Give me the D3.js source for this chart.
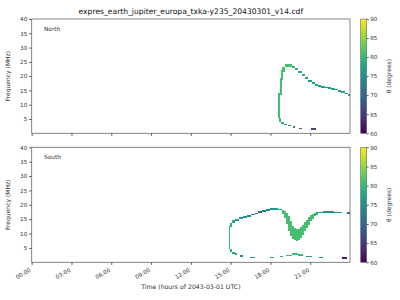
<!DOCTYPE html>
<html>
<head>
<meta charset="utf-8">
<script src="https://cdnjs.cloudflare.com/ajax/libs/d3/7.8.5/d3.min.js"></script>
<style>
  body { margin: 0; background: #fff; }
  text { font-family: "DejaVu Sans", sans-serif; fill: #333; }
</style>
</head>
<body>
<script>
// chart size
var w = 400, h = 300;
var left = 31.7, right = 350;
var panels = [{name: "North", top: 19, bottom: 133.3}, {name: "South", top: 147.3, bottom: 262.3}];

var titleText = "expres_earth_jupiter_europa_txka-y235_20430301_v14.cdf";
var hourTicks = [0, 3, 6, 9, 12, 15, 18, 21];
var hourLabels = ["00:00", "03:00", "06:00", "09:00", "12:00", "15:00", "18:00", "21:00"];
var freqTicks = [5, 10, 15, 20, 25, 30, 35, 40];
var thetaTicks = [60, 65, 70, 75, 80, 85, 90];

// north cells: start hour, end hour, low freq, high freq, theta
var northT0 = [18.60, 18.72, 18.80, 18.90, 19.10,
  19.60, 19.85, 20.10, 20.35, 20.60, 20.85, 21.10, 21.35, 21.60, 21.85, 22.10, 22.35, 22.60, 22.85, 23.10, 23.35, 23.60, 23.85,
  18.62, 18.80, 19.00, 19.35, 19.70, 20.15, 21.05];
var northT1 = [18.75, 18.87, 18.96, 19.10, 19.60,
  19.85, 20.10, 20.35, 20.60, 20.85, 21.10, 21.35, 21.60, 21.85, 22.10, 22.35, 22.60, 22.85, 23.10, 23.35, 23.60, 23.85, 24.00,
  18.80, 19.00, 19.25, 19.55, 19.85, 20.40, 21.40];
var northF0 = [5.2, 13.4, 18.6, 21.5, 23.1,
  23.0, 22.0, 21.0, 19.9, 18.9, 18.0, 17.3, 16.7, 16.3, 16.0, 15.8, 15.6, 15.3, 15.0, 14.5, 14.1, 13.6, 13.1,
  4.0, 3.2, 2.8, 2.4, 2.0, 1.6, 1.3];
var northF1 = [14.0, 19.2, 22.1, 23.3, 24.1,
  23.7, 22.8, 21.8, 20.6, 19.6, 18.7, 18.0, 17.3, 16.9, 16.6, 16.3, 16.1, 15.9, 15.6, 15.1, 14.7, 14.2, 13.7,
  5.3, 4.0, 3.3, 2.8, 2.4, 2.0, 1.7];
var northTheta = [81, 81, 81, 81, 81,
  80, 79, 78, 78, 77, 77, 77, 77, 77, 77, 77, 77, 77, 77, 77, 77, 77, 77,
  80, 79, 78, 77, 74, 70, 66];

// south cells
var southT0 = [14.85, 14.97, 15.10, 15.30, 15.60, 15.90, 16.20, 16.50, 16.80, 17.10, 17.40, 17.70, 18.00, 18.30, 18.60,
  18.90, 19.05, 19.20, 19.35, 19.50, 19.65, 19.80, 19.95, 20.10, 20.25, 20.40, 20.55, 20.70, 20.85, 21.00, 21.15, 21.30, 21.45,
  21.60, 22.00, 22.40, 22.80, 23.80,
  14.97, 15.10, 15.30, 15.70, 16.45, 17.95, 18.70, 19.15, 19.60, 20.10, 20.70, 21.70, 23.36];
var southT1 = [14.97, 15.10, 15.30, 15.60, 15.90, 16.20, 16.50, 16.80, 17.10, 17.40, 17.70, 18.00, 18.30, 18.60, 18.90,
  19.05, 19.20, 19.35, 19.50, 19.65, 19.80, 19.95, 20.10, 20.25, 20.40, 20.55, 20.70, 20.85, 21.00, 21.15, 21.30, 21.45, 21.60,
  22.00, 22.40, 22.80, 23.36, 24.00,
  15.10, 15.30, 15.50, 15.95, 16.80, 18.30, 18.95, 19.60, 20.10, 20.45, 21.10, 22.00, 23.75];
var southF0 = [4.5, 12.2, 13.6, 14.4, 15.0, 15.5, 15.9, 16.3, 16.7, 17.2, 17.6, 18.0, 18.3, 18.3, 18.1,
  16.8, 15.3, 13.2, 11.0, 9.3, 8.2, 7.6, 7.5, 7.8, 8.5, 9.6, 10.8, 12.0, 13.1, 14.2, 15.2, 16.0, 16.6,
  17.0, 17.1, 17.1, 17.0, 16.9,
  3.6, 3.0, 2.5, 2.0, 1.6, 1.6, 1.9, 2.2, 2.6, 2.3, 1.9, 1.6, 1.3];
var southF1 = [12.5, 13.8, 14.6, 15.2, 15.7, 16.1, 16.5, 16.9, 17.3, 17.8, 18.2, 18.6, 18.9, 18.9, 18.7,
  18.3, 17.8, 17.1, 16.0, 14.3, 12.8, 12.0, 11.6, 11.7, 12.2, 13.0, 13.9, 14.8, 15.6, 16.3, 16.9, 17.3, 17.5,
  17.6, 17.7, 17.7, 17.6, 17.5,
  4.8, 3.7, 3.1, 2.5, 2.0, 2.0, 2.3, 2.7, 3.2, 2.8, 2.3, 2.0, 1.7];
var southTheta = [80, 79, 78, 77, 76, 76, 75, 73, 71, 71, 73, 75, 76, 77, 78,
  81, 81, 81, 81, 81, 81, 81, 81, 81, 81, 81, 81, 81, 81, 81, 81, 80, 79,
  77, 76, 76, 76, 71,
  79, 78, 77, 74, 75, 77, 78, 80, 81, 80, 77, 74, 62];

var x = d3.scaleLinear().domain([0, 24]).range([left, right]);
var color = d3.scaleSequential(d3.interpolateViridis).domain([60, 90]);

var svg = d3.select("body").append("svg")
  .attr("width", w).attr("height", h);

svg.append("text")
  .attr("x", (left + right) / 2).attr("y", 14)
  .attr("text-anchor", "middle")
  .attr("font-size", "7.6px")
  .style("fill", "#111")
  .text(titleText);

// colorbar gradient
var grad = svg.append("defs").append("linearGradient")
  .attr("id", "cbar").attr("x1", 0).attr("y1", 1).attr("x2", 0).attr("y2", 0);
d3.range(0, 1.01, 0.1).forEach(function(s) {
  grad.append("stop").attr("offset", s).attr("stop-color", d3.interpolateViridis(s));
});

var cells = [
  {t0: northT0, t1: northT1, f0: northF0, f1: northF1, th: northTheta},
  {t0: southT0, t1: southT1, f0: southF0, f1: southF1, th: southTheta}
];

panels.forEach(function(p, k) {
  var y = d3.scaleLinear().domain([0, 40]).range([p.bottom, p.top]);
  var g = svg.append("g");
  var c = cells[k];

  g.selectAll("rect.cell")
    .data(c.t0)
    .enter()
    .append("rect")
    .attr("class", "cell")
    .attr("x", function(d) { return x(d); })
    .attr("width", function(d, i) { return x(c.t1[i]) - x(d); })
    .attr("y", function(d, i) { return y(c.f1[i]); })
    .attr("height", function(d, i) { return y(c.f0[i]) - y(c.f1[i]); })
    .attr("fill", function(d, i) { return color(c.th[i]); })
    .attr("shape-rendering", "crispEdges");

  // y axis
  var ya = g.append("g").attr("transform", "translate(" + left + ",0)")
    .call(d3.axisLeft(y).tickValues(freqTicks).tickSize(2.5).tickPadding(2));
  ya.select(".domain").remove();
  ya.selectAll("line").attr("stroke", "#555");
  ya.selectAll("text").attr("font-size", "5.6px").attr("font-family", "DejaVu Sans").style("fill", "#333");

  // x axis
  var xa = g.append("g").attr("transform", "translate(0," + p.bottom + ")")
    .call(d3.axisBottom(x).tickValues(hourTicks).tickSize(2.5)
      .tickFormat(function(d, i) { return k == 1 ? hourLabels[i] : ""; }));
  xa.select(".domain").remove();
  xa.selectAll("line").attr("stroke", "#555");
  xa.selectAll("text")
    .attr("font-size", "5.6px").attr("font-family", "DejaVu Sans").style("fill", "#333")
    .attr("text-anchor", "end")
    .attr("dy", null).attr("y", 0)
    .attr("transform", "translate(-1,9) rotate(-30)");

  // frame
  g.append("rect")
    .attr("x", left).attr("y", p.top)
    .attr("width", right - left).attr("height", p.bottom - p.top)
    .attr("fill", "none").attr("stroke", "#666").attr("stroke-width", 0.8);

  g.append("text")
    .attr("x", 44).attr("y", p.top + 12)
    .attr("font-size", "5.8px")
    .text(p.name);

  g.append("text")
    .attr("transform", "translate(10," + ((p.top + p.bottom) / 2) + ") rotate(-90)")
    .attr("text-anchor", "middle")
    .attr("font-size", "6px")
    .text("Frequency (MHz)");

  // colorbar
  var cy = d3.scaleLinear().domain([60, 90]).range([p.bottom, p.top]);
  g.append("rect")
    .attr("x", 360.7).attr("y", p.top)
    .attr("width", 6).attr("height", p.bottom - p.top)
    .attr("fill", "url(#cbar)")
    .attr("stroke", "#666").attr("stroke-width", 0.6);
  var ca = g.append("g").attr("transform", "translate(366.7,0)")
    .call(d3.axisRight(cy).tickValues(thetaTicks).tickSize(2).tickPadding(1.5));
  ca.select(".domain").remove();
  ca.selectAll("line").attr("stroke", "#555");
  ca.selectAll("text").attr("font-size", "5.6px").attr("font-family", "DejaVu Sans").style("fill", "#333");
  g.append("text")
    .attr("transform", "translate(391," + ((p.top + p.bottom) / 2) + ") rotate(-90)")
    .attr("text-anchor", "middle")
    .attr("font-size", "6px")
    .text("\u03b8 (degrees)");
});

svg.append("text")
  .attr("x", (left + right) / 2).attr("y", 289)
  .attr("text-anchor", "middle")
  .attr("font-size", "6.2px")
  .text("Time (hours of 2043-03-01 UTC)");
</script>
</body>
</html>
